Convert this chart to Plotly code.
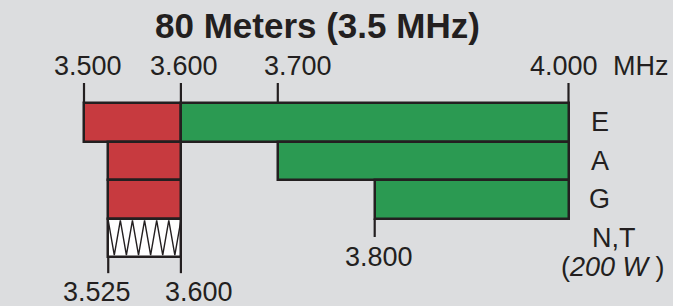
import plotly.graph_objects as go
import numpy as np

# ---- data ----
title = "80 Meters (3.5 MHz)"
rows = ["E", "A", "G", "N,T"]
cw_start = [3.500, 3.525, 3.525]
cw_end = [3.600, 3.600, 3.600]
phone_start = [3.600, 3.700, 3.800]
phone_end = [4.000, 4.000, 4.000]
nt_start = 3.525
nt_end = 3.600
top_ticks = [3.500, 3.600, 3.700, 4.000]
top_labels = ["3.500", "3.600", "3.700", "4.000"]
bottom_ticks = [3.525, 3.600]
bottom_labels = ["3.525", "3.600"]
mid_tick = 3.800
mid_label = "3.800"
unit = "MHz"
power_note = "(<i>200 W</i> )"

# ---- style ----
BG = "#DCDDDF"
RED = "#C73A3F"
GREEN = "#2B9A52"
INK = "#231F20"
FONT = "Liberation Sans, Arial, Helvetica, sans-serif"
FS = 27

fig = go.Figure()

ys = list(range(len(cw_start)))
fig.add_trace(go.Bar(
    orientation="h", y=ys, base=cw_start,
    x=[e - s for s, e in zip(cw_start, cw_end)], width=1,
    marker=dict(color=RED, line=dict(color=INK, width=2.5)),
    hoverinfo="skip", showlegend=False))
fig.add_trace(go.Bar(
    orientation="h", y=ys, base=phone_start,
    x=[e - s for s, e in zip(phone_start, phone_end)], width=1,
    marker=dict(color=GREEN, line=dict(color=INK, width=2.5)),
    hoverinfo="skip", showlegend=False))
nt_row = 3
fig.add_trace(go.Bar(
    orientation="h", y=[nt_row], base=[nt_start], x=[nt_end - nt_start], width=1,
    marker=dict(color="white", line=dict(color=INK, width=2.5)),
    hoverinfo="skip", showlegend=False))

# zigzag decoration inside the N,T cell
n_v = 6
zx = np.linspace(nt_start, nt_end, 2 * n_v + 1)
zy = [nt_row - 0.45 if i % 2 == 0 else nt_row + 0.45 for i in range(len(zx))]
fig.add_trace(go.Scatter(x=zx, y=zy, mode="lines",
                         line=dict(color=INK, width=1.4),
                         hoverinfo="skip", showlegend=False))

# tick marks
tx, ty = [], []
for t in top_ticks:
    tx += [t, t, None]
    ty += [-0.5, -1.02, None]
for t in bottom_ticks:
    tx += [t, t, None]
    ty += [3.5, 3.92, None]
tx += [mid_tick, mid_tick, None]
ty += [2.5, 2.98, None]
fig.add_trace(go.Scatter(x=tx, y=ty, mode="lines",
                         line=dict(color=INK, width=2.2),
                         hoverinfo="skip", showlegend=False))

ann = []
def add(text, x, y, xshift=0, size=FS):
    ann.append(dict(text=text, x=x, y=y, xref="x", yref="y", xshift=xshift,
                    showarrow=False, xanchor="center", yanchor="middle",
                    font=dict(family=FONT, size=size, color=INK)))

top_shift = [4, 3, 20, -5]
for t, lab, s in zip(top_ticks, top_labels, top_shift):
    add(lab, t, -1.45, s)
add(unit, top_ticks[-1], -1.45, 72)
bot_shift = [-11, 18]
for t, lab, s in zip(bottom_ticks, bottom_labels, bot_shift):
    add(lab, t, 4.4, s)
add(mid_label, mid_tick, 3.5, 4)
for i, r in enumerate(rows[:3]):
    add(r, 4.000, i, 31)
add(rows[3], 4.000, 3.0, 45)
add(power_note, 4.000, 3.76, 44)
ann.append(dict(text="<b>" + title + "</b>", x=317.5 / 673, y=1 - 25 / 306,
                xref="paper", yref="paper", showarrow=False,
                xanchor="center", yanchor="middle",
                font=dict(family=FONT, size=35, color=INK)))

px_per = 969.0
x0 = 3.5 - 84 / px_per
x1 = 3.5 + (673 - 84) / px_per
rh = 38.5
yc = 122.25
fig.update_layout(
    width=673, height=306,
    margin=dict(l=0, r=0, t=0, b=0),
    paper_bgcolor=BG, plot_bgcolor=BG,
    barmode="overlay", bargap=0,
    xaxis=dict(range=[x0, x1], visible=False, fixedrange=True),
    yaxis=dict(range=[(306 - yc) / rh, (0 - yc) / rh], visible=False, fixedrange=True),
    annotations=ann,
)

fig.write_html(
    "out.html",
    config={"displayModeBar": False},
    post_script="document.body.style.margin='0';document.body.style.overflow='hidden';"
                "document.documentElement.style.overflow='hidden';",
)
